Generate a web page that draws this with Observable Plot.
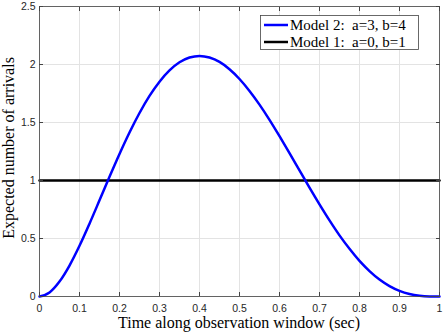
<!DOCTYPE html>
<html><head><meta charset="utf-8">
<script src="https://cdn.jsdelivr.net/npm/d3@7"></script>
<script src="https://cdn.jsdelivr.net/npm/@observablehq/plot@0.6"></script>
<style>
body{margin:0;background:#fff;}
#chart{position:relative;width:443px;height:332px;}
</style></head>
<body><div id="chart"></div>
<script>
// Data
const timeValues = [0,0.025,0.05,0.075,0.1,0.125,0.15,0.175,0.2,0.225,0.25,0.275,0.3,0.325,0.35,0.375,0.4,0.425,0.45,0.475,0.5,0.525,0.55,0.575,0.6,0.625,0.65,0.675,0.7,0.725,0.75,0.775,0.8,0.825,0.85,0.875,0.9,0.925,0.95,0.975,1];
const model2Values = [0,0.035,0.129,0.267,0.437,0.628,0.829,1.032,1.229,1.414,1.582,1.729,1.852,1.949,2.019,2.060,2.074,2.060,2.022,1.959,1.875,1.772,1.654,1.523,1.382,1.236,1.087,0.938,0.794,0.656,0.527,0.411,0.307,0.219,0.146,0.090,0.049,0.022,0.007,0.001,0];
const model1Values = timeValues.map(() => 1);
const seriesNames = ["Model 2:  a=3, b=4", "Model 1:  a=0, b=1"];
const seriesColors = ["#0000ff", "#000000"];
const xTicks = [0,0.1,0.2,0.3,0.4,0.5,0.6,0.7,0.8,0.9,1];
const yTicks = [0,0.5,1,1.5,2,2.5];

const m2 = timeValues.map((t,i)=>({t, v:model2Values[i]}));
const m1 = timeValues.map((t,i)=>({t, v:model1Values[i]}));

const tickFont = "Liberation Sans, Arial, sans-serif";
const serif = "Liberation Serif, Times New Roman, serif";

const plot = Plot.plot({
  width: 443, height: 332,
  marginLeft: 39, marginRight: 4, marginTop: 6, marginBottom: 36,
  style: {fontFamily: tickFont, fontSize: "10.5px", color: "#262626", background: "#fff"},
  x: {domain: [0,1], label: null},
  y: {domain: [0,2.5], label: null},
  marks: [
    Plot.gridX(xTicks, {stroke: "#e3e3e3", strokeOpacity: 1}),
    Plot.gridY(yTicks, {stroke: "#e3e3e3", strokeOpacity: 1}),
    Plot.line(m1, {x:"t", y:"v", stroke: seriesColors[1], strokeWidth: 2.5}),
    Plot.line(m2, {x:"t", y:"v", stroke: seriesColors[0], strokeWidth: 2.5, curve: "monotone-x"}),
    Plot.frame({stroke: "#444", strokeWidth: 0.8}),
    Plot.axisX(xTicks, {tickSize: -4, text: null, stroke: "#444", label: null}),
    Plot.axisX(xTicks, {anchor: "top", tickSize: -4, text: null, stroke: "#444", label: null}),
    Plot.axisY(yTicks, {tickSize: -4, text: null, stroke: "#444", label: null}),
    Plot.axisY(yTicks, {anchor: "right", tickSize: -4, text: null, stroke: "#444", label: null}),
    Plot.axisX(xTicks, {tickSize: 0, tickPadding: 8, tickFormat: d => String(d), label: null, fill: "#262626"}),
    Plot.axisY(yTicks, {tickSize: 0, tickPadding: 4, tickFormat: d => String(d), label: null, fill: "#262626"})
  ]
});
document.getElementById("chart").appendChild(plot);

// Axis titles and legend
const svg = d3.select(plot);
svg.append("text").attr("x", 239).attr("y", 328).attr("text-anchor","middle")
  .attr("font-family", serif).attr("font-size", "16px").attr("fill","#000")
  .text("Time along observation window (sec)");
svg.append("text").attr("transform","translate(14,148) rotate(-90)").attr("text-anchor","middle")
  .attr("font-family", serif).attr("font-size", "16px").attr("fill","#000")
  .text("Expected number of arrivals");

const lg = svg.append("g");
lg.append("rect").attr("x",260.5).attr("y",15.5).attr("width",158).attr("height",34)
  .attr("fill","#fff").attr("stroke","#444").attr("stroke-width",0.8);
seriesNames.forEach((name,i)=>{
  const y = 25 + i*17;
  lg.append("line").attr("x1",264).attr("x2",288).attr("y1",y).attr("y2",y)
    .attr("stroke",seriesColors[i]).attr("stroke-width",2.5);
  lg.append("text").attr("x",290).attr("y",y+5).attr("text-anchor","start").attr("font-family",serif)
    .attr("font-size","15px").attr("fill","#000").text(name);
});
</script>
</body></html>
